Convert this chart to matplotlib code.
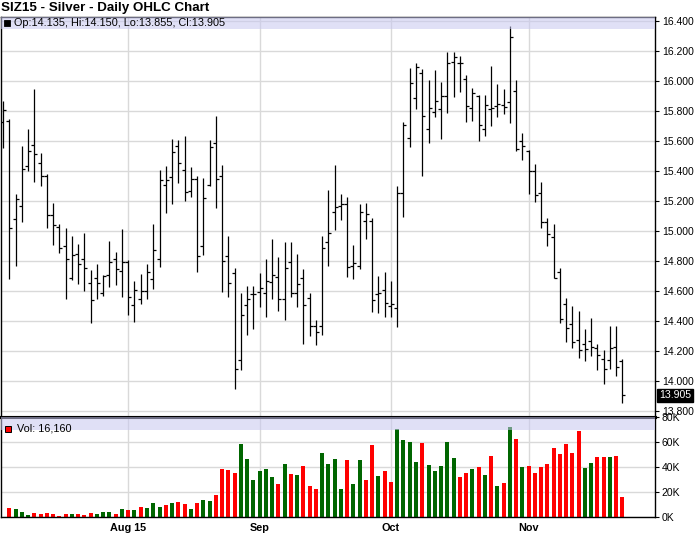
import numpy as np
import pandas as pd
import matplotlib

matplotlib.use("Agg")
import matplotlib.pyplot as plt
import matplotlib.transforms as mtransforms

plt.rcParams["font.family"] = ["Liberation Sans", "DejaVu Sans"]

# trading days on the chart (no bar on Labor Day)
dates = pd.bdate_range("2015-07-06", "2015-11-23").drop(pd.Timestamp("2015-09-07"))

opens = [15.724, 15.736, 15.08, 15.169, 15.436, 15.573, 15.453, 15.367, 15.104, 15.027, 14.898,
         14.687, 14.847, 14.816, 14.653, 14.687, 14.587, 14.704, 14.816, 14.736, 14.793,
         14.509, 14.549, 14.602, 14.682, 14.816, 15.307, 15.358, 15.569, 15.409, 15.269,
         15.349, 14.902, 15.307, 15.587, 15.369, 14.831, 14.72, 14.142, 14.509, 14.58,
         14.591, 14.587, 14.658, 14.691, 14.549, 14.793, 14.587, 14.687, 14.553, 14.369,
         14.369, 14.927, 15.124, 15.169, 15.182, 14.767, 14.767, 15.067, 15.067, 14.58,
         14.607, 14.5, 14.484, 15.251, 15.618, 15.884, 16.056, 15.68, 15.796, 15.811,
         15.902, 16.127, 16.118, 16.011, 15.822, 15.9, 15.68, 15.811, 15.833, 15.84,
         15.862, 15.933, 15.6, 15.533, 15.4, 15.251, 15.062, 14.962, 14.729, 14.511,
         14.378, 14.273, 14.247, 14.267, 14.222, 14.147, 14.14, 14.224, 14.135]
highs = [15.869, 15.747, 15.249, 15.569, 15.682, 15.949, 15.522, 15.38, 15.187, 15.049, 15.02,
         14.969, 14.916, 14.989, 14.738, 14.782, 14.709, 14.936, 14.862, 15.016, 14.809,
         14.664, 14.716, 14.778, 15.049, 15.409, 15.431, 15.616, 15.609, 15.636, 15.424,
         15.369, 15.356, 15.609, 15.769, 15.442, 14.969, 14.753, 14.587, 14.631, 14.631,
         14.72, 14.816, 14.949, 14.827, 14.927, 14.927, 14.849, 14.749, 14.587, 14.404,
         14.969, 15.276, 15.438, 15.249, 15.224, 14.909, 15.182, 15.189, 15.09, 14.7,
         14.724, 14.667, 15.302, 15.724, 16.084, 16.118, 16.08, 16.007, 16.073, 15.991,
         16.193, 16.193, 16.167, 16.04, 15.956, 15.907, 15.907, 16.102, 15.98, 15.947,
         16.367, 16.007, 15.651, 15.54, 15.447, 15.324, 15.089, 15.047, 14.756, 14.551,
         14.5, 14.467, 14.347, 14.418, 14.247, 14.207, 14.367, 14.367, 14.15]
lows = [15.553, 14.68, 14.764, 15.058, 15.398, 15.324, 15.298, 15.02, 14.904, 14.853, 14.547,
        14.671, 14.647, 14.6, 14.387, 14.547, 14.564, 14.624, 14.638, 14.558, 14.438,
        14.393, 14.513, 14.544, 14.616, 14.758, 15.122, 15.182, 15.318, 15.198, 15.224,
        14.724, 14.838, 15.3, 15.151, 14.593, 14.558, 13.947, 14.071, 14.304, 14.349,
        14.491, 14.424, 14.547, 14.469, 14.409, 14.558, 14.491, 14.247, 14.302, 14.238,
        14.304, 14.764, 15.009, 15.076, 14.691, 14.682, 14.75, 14.944, 14.46, 14.451,
        14.429, 14.424, 14.358, 15.096, 15.562, 15.813, 15.369, 15.584, 15.762, 15.611,
        15.784, 15.896, 15.929, 15.729, 15.736, 15.602, 15.633, 15.7, 15.762, 15.778,
        15.718, 15.533, 15.473, 15.247, 15.196, 15.022, 14.902, 14.684, 14.389, 14.262,
        14.222, 14.151, 14.136, 14.169, 14.073, 13.98, 14.08, 14.033, 13.855]
closes = [15.809, 15.02, 15.213, 15.413, 15.536, 15.513, 15.367, 15.104, 15.04, 14.887, 14.816,
          14.842, 14.782, 14.753, 14.542, 14.653, 14.698, 14.796, 14.747, 14.793, 14.56,
          14.609, 14.602, 14.729, 14.873, 15.342, 15.338, 15.529, 15.451, 15.262, 15.349,
          14.833, 15.222, 15.56, 15.349, 14.8, 14.656, 14.08, 14.442, 14.549, 14.582,
          14.62, 14.664, 14.709, 14.549, 14.753, 14.587, 14.647, 14.509, 14.364, 14.327,
          14.887, 14.987, 15.16, 15.182, 14.758, 14.787, 15.124, 15.113, 14.54, 14.584,
          14.522, 14.511, 15.256, 15.707, 15.989, 16.091, 15.764, 15.818, 15.867, 15.902,
          16.122, 16.162, 16.118, 15.836, 15.922, 15.704, 15.84, 15.818, 15.844, 15.83,
          16.291, 15.547, 15.567, 15.4, 15.24, 15.062, 14.98, 14.689, 14.413, 14.356,
          14.262, 14.205, 14.215, 14.225, 14.173, 14.08, 14.222, 14.096, 13.905]
# volume in thousands of contracts (first day has no volume bar)
volume_k = [np.nan, 7.5, 6.7, 4.0, 1.9, 3.2, 2.4, 3.2, 2.4, 0.8, 2.4,
            2.4, 2.4, 1.6, 3.2, 2.4, 4.0, 4.0, 2.4, 6.4, 5.6,
            5.6, 8.0, 7.2, 11.2, 8.0, 9.6, 11.2, 12.0, 10.4, 6.4,
            11.2, 13.6, 12.8, 17.6, 38.5, 37.7, 35.3, 58.6, 46.5, 29.7,
            37.2, 38.5, 32.1, 26.5, 42.5, 34.5, 33.7, 40.9, 24.9, 22.5,
            51.3, 42.5, 46.5, 22.5, 45.7, 26.6, 45.9, 29.8, 58.0, 33.0,
            37.0, 28.2, 70.6, 62.0, 60.4, 44.3, 59.6, 41.9, 37.0, 41.1,
            60.4, 47.5, 32.2, 35.4, 38.7, 40.3, 33.8, 49.1, 25.0, 27.4,
            71.9, 62.8, 40.3, 41.1, 35.4, 40.3, 42.7, 55.6, 50.7, 58.8,
            51.5, 68.5, 39.5, 43.5, 48.3, 48.3, 48.3, 49.1, 16.16]

O = np.array(opens)
H = np.array(highs)
L = np.array(lows)
C = np.array(closes)
V = np.array(volume_k) * 1000
x = np.arange(len(dates))

up = np.r_[True, C[1:] > C[:-1]]
vcol = np.where(up, "#006600", "#FF0000")

# month starts for the date axis
month_start = [i for i in range(1, len(dates)) if dates[i].month != dates[i - 1].month]
month_lab = [dates[i].strftime("%b %y") if k == 0 else dates[i].strftime("%b")
             for k, i in enumerate(month_start)]

GRID = "#D9D9D9"
BAND = "#C8C8F0"

fig = plt.figure(figsize=(7.0, 5.36), dpi=100)
ax = fig.add_axes([0.0014, 0.2229, 0.9343, 0.7463])
axv = fig.add_axes([0.0014, 0.0354, 0.9343, 0.1875])

# ---- price panel
ax.vlines(x, L, H, color="black", lw=0.9, zorder=2)
ax.hlines(O, x - 0.48, x, color="black", lw=0.9, zorder=2)
ax.hlines(C, x, x + 0.48, color="black", lw=0.9, zorder=2)
ax.set_xlim(-0.34, 104.2)
ax.set_ylim(13.7633, 16.43)
ax.axhspan(16.347, 16.43, color=BAND, alpha=0.55, lw=0, zorder=3)

yt = np.round(np.arange(13.8, 16.41, 0.2), 1)
ax.set_yticks(yt)
ax.set_yticklabels([f"{v:.3f}" for v in yt])
ax.yaxis.tick_right()
ax.tick_params(axis="y", direction="out", length=3, width=0.8, pad=2, labelsize=7.5)
ax.set_xticks(month_start)
ax.tick_params(axis="x", length=0, labelbottom=False)
ax.grid(True, color=GRID, lw=1.0, zorder=0)
ax.set_axisbelow(True)
for s in ("left", "top", "right"):
    ax.spines[s].set_linewidth(1.0)
ax.spines["bottom"].set_linewidth(2.2)

ax.plot([0.0095], [0.984], "s", ms=4.6, mfc="black", mec="black", mew=0.6,
        transform=ax.transAxes, clip_on=False, zorder=5)
ax.text(0.0195, 0.984, f"Op:{O[-1]:.3f}, Hi:{H[-1]:.3f}, Lo:{L[-1]:.3f}, Cl:{C[-1]:.3f}",
        transform=ax.transAxes, fontsize=7.8, va="center", ha="left", zorder=5)

tr = mtransforms.blended_transform_factory(ax.transAxes, ax.transData)
ax.text(1.006, C[-1], f"{C[-1]:.3f}", transform=tr, fontsize=7.6, color="white",
        va="center", ha="left", zorder=6, clip_on=False,
        bbox=dict(boxstyle="square,pad=0.14", fc="black", ec="black"))

# ---- volume panel
axv.bar(x, V, width=0.64, color=vcol, lw=0, zorder=2)
axv.set_xlim(-0.34, 104.2)
axv.set_ylim(0, 80400)
axv.axhspan(69600, 80400, color=BAND, alpha=0.55, lw=0, zorder=3)
vt = [0, 20000, 40000, 60000, 80000]
axv.set_yticks(vt)
axv.set_yticklabels([f"{v // 1000}K" for v in vt])
axv.yaxis.tick_right()
axv.tick_params(axis="y", direction="out", length=3, width=0.8, pad=2, labelsize=7.5)
axv.set_xticks(month_start)
axv.set_xticklabels(month_lab, fontweight="bold", fontsize=7.8)
axv.tick_params(axis="x", length=0, pad=4)
axv.grid(True, color=GRID, lw=1.0, zorder=0)
axv.set_axisbelow(True)
axv.spines["top"].set_linewidth(2.2)
for s in ("left", "bottom", "right"):
    axv.spines[s].set_linewidth(1.0)

axv.plot([0.011], [0.878], "s", ms=5.0, mfc="#FF0000", mec="black", mew=0.7,
         transform=axv.transAxes, clip_on=False, zorder=5)
axv.text(0.0245, 0.878, f"Vol: {V[-1]:,.0f}", transform=axv.transAxes, fontsize=7.8,
         va="center", ha="left", zorder=5)

fig.text(0.002, 0.985, "SIZ15 - Silver - Daily OHLC Chart", fontsize=9.6,
         fontweight="bold", va="center", ha="left")

fig.savefig("out.png", dpi=100)
